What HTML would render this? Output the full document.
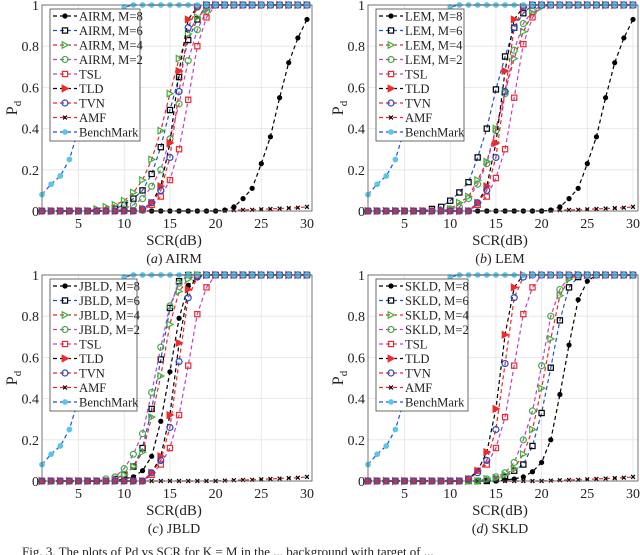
<!DOCTYPE html>
<html><head><meta charset="utf-8"><style>
html,body{margin:0;padding:0;background:#fff;width:640px;height:555px;overflow:hidden}
svg{display:block}
text{font-family:"Liberation Serif",serif;fill:#222}
</style></head><body>
<svg id="fig" width="640" height="555" viewBox="0 0 640 555" xmlns="http://www.w3.org/2000/svg"></svg>
<script>
const xCats=[1,2,3,4,5,6,7,8,9,10,11,12,13,14,15,16,17,18,19,20,21,22,23,24,25,26,27,28,29,30];
const xTicks=[5,10,15,20,25,30];
const yTicks=[0,0.2,0.4,0.6,0.8,1];
const yTickLabels=["0","0.2","0.4","0.6","0.8","1"];
const benchVals=[.08,.13,.17,.25,.40,.55,.70,.83,.93,.99,1,1,1,1,1,1,1,1,1,1,1,1,1,1,1,1,1,1,1,1];
const amfVals=[0,0,0,0,0,0,0,0,0,0,0,0,0,0,0,0,0,0,0,0,.002,.004,.005,.006,.008,.01,.012,.014,.016,.02];
// panel a (AIRM)
const aM8=[0,0,0,0,0,0,0,0,0,0,0,0,0,0,0,0,0,0,0,0,.005,.02,.06,.11,.23,.36,.55,.72,.84,.93];
const aM6=[0,0,0,0,0,0,0,0,.01,.03,.06,.10,.18,.31,.49,.65,.83,.93,1,1,1,1,1,1,1,1,1,1,1,1];
const aM4=[0,0,0,0,0,0,.01,.02,.03,.05,.09,.15,.25,.39,.57,.74,.86,.94,.98,1,1,1,1,1,1,1,1,1,1,1];
const aM2=[0,0,0,0,0,0,0,0,0,.01,.03,.06,.12,.20,.35,.52,.73,.88,.97,1,1,1,1,1,1,1,1,1,1,1];
const aTSL=[0,0,0,0,0,0,0,0,0,0,0,.005,.03,.07,.15,.30,.54,.80,.94,1,1,1,1,1,1,1,1,1,1,1];
const aTLD=[0,0,0,0,0,0,0,0,0,0,0,.01,.04,.12,.33,.68,.93,.99,1,1,1,1,1,1,1,1,1,1,1,1];
const aTVN=[0,0,0,0,0,0,0,0,0,0,0,.01,.04,.10,.26,.58,.89,.99,1,1,1,1,1,1,1,1,1,1,1,1];
// panel b (LEM)
const bM8=[0,0,0,0,0,0,0,0,0,0,0,0,0,0,0,0,0,0,0,0,.005,.02,.06,.11,.23,.36,.55,.72,.84,.93];
const bM6=[0,0,0,0,0,0,0,.01,.02,.05,.09,.14,.26,.40,.59,.75,.89,.96,1,1,1,1,1,1,1,1,1,1,1,1];
const bM4=[0,0,0,0,0,0,0,0,0,.01,.04,.07,.15,.24,.40,.58,.74,.87,.96,.99,1,1,1,1,1,1,1,1,1,1];
const bM2=[0,0,0,0,0,0,0,0,0,.01,.02,.06,.13,.23,.39,.57,.78,.91,.97,1,1,1,1,1,1,1,1,1,1,1];
const bTSL=[0,0,0,0,0,0,0,0,0,0,0,0,.03,.07,.16,.30,.55,.81,.94,1,1,1,1,1,1,1,1,1,1,1];
const bTLD=[0,0,0,0,0,0,0,0,0,0,0,0,.04,.12,.33,.68,.93,.99,1,1,1,1,1,1,1,1,1,1,1,1];
const bTVN=[0,0,0,0,0,0,0,0,0,0,0,0,.04,.10,.26,.58,.89,.99,1,1,1,1,1,1,1,1,1,1,1,1];
// panel c (JBLD)
const cM8=[0,0,0,0,0,0,0,0,0,.01,.02,.05,.12,.29,.53,.79,.95,.99,1,1,1,1,1,1,1,1,1,1,1,1];
const cM6=[0,0,0,0,0,0,0,0,.01,.03,.07,.16,.35,.59,.84,.97,1,1,1,1,1,1,1,1,1,1,1,1,1,1];
const cM4=[0,0,0,0,0,0,0,0,.01,.03,.07,.14,.31,.51,.76,.92,.98,1,1,1,1,1,1,1,1,1,1,1,1,1];
const cM2=[0,0,0,0,0,0,0,.01,.02,.06,.13,.23,.43,.65,.85,.96,1,1,1,1,1,1,1,1,1,1,1,1,1,1];
const cTSL=[0,0,0,0,0,0,0,0,0,0,0,0,.03,.08,.16,.32,.56,.81,.94,1,1,1,1,1,1,1,1,1,1,1];
const cTLD=[0,0,0,0,0,0,0,0,0,0,0,0,.04,.12,.32,.67,.93,.99,1,1,1,1,1,1,1,1,1,1,1,1];
const cTVN=[0,0,0,0,0,0,0,0,0,0,0,0,.04,.10,.26,.58,.89,.99,1,1,1,1,1,1,1,1,1,1,1,1];
// panel d (SKLD)
const dM8=[0,0,0,0,0,0,0,0,0,0,0,0,0,0,0,.005,.01,.02,.045,.09,.20,.42,.66,.88,.97,1,1,1,1,1];
const dM6=[0,0,0,0,0,0,0,0,0,0,0,0,0,0,.01,.02,.05,.08,.17,.33,.55,.78,.94,.99,1,1,1,1,1,1];
const dM4=[0,0,0,0,0,0,0,0,0,0,0,0,0,.01,.015,.03,.06,.13,.25,.45,.69,.90,.98,1,1,1,1,1,1,1];
const dM2=[0,0,0,0,0,0,0,0,0,0,0,0,0,.01,.02,.04,.09,.20,.34,.56,.80,.93,.99,1,1,1,1,1,1,1];
const dTSL=[0,0,0,0,0,0,0,0,0,0,0,.01,.05,.08,.16,.31,.56,.81,.94,1,1,1,1,1,1,1,1,1,1,1];
const dTLD=[0,0,0,0,0,0,0,0,0,0,0,.01,.05,.14,.35,.71,.94,1,1,1,1,1,1,1,1,1,1,1,1,1];
const dTVN=[0,0,0,0,0,0,0,0,0,0,0,.01,.04,.10,.25,.57,.89,.99,1,1,1,1,1,1,1,1,1,1,1,1];

const NS="http://www.w3.org/2000/svg";
const svg=document.getElementById('fig');
function mk(tag,attrs,parent){const e=document.createElementNS(NS,tag);for(const k in attrs)e.setAttribute(k,attrs[k]);(parent||svg).appendChild(e);return e;}

const styles=[
 {line:'#000',mk:'dot',mc:'#000'},
 {line:'#1f4fd0',mk:'square',mc:'#000'},
 {line:'#e8262a',mk:'tri',mc:'#3cb33c'},
 {line:'#c040c8',mk:'circle',mc:'#3cb33c'},
 {line:'#c040c8',mk:'square',mc:'#ee2a2a'},
 {line:'#000',mk:'trifill',mc:'#ee2a2a'},
 {line:'#e8262a',mk:'circle',mc:'#1f4fd0'},
 {line:'#e8262a',mk:'x',mc:'#000'},
 {line:'#1f4fd0',mk:'bench',mc:'#5cc6e6'}
];
function marker(g,kind,c,x,y){
  let e;
  if(kind==='dot')e=mk('circle',{cx:x,cy:y,r:2.6,fill:c},g);
  else if(kind==='bench')e=mk('circle',{cx:x,cy:y,r:2.9,fill:c},g);
  else if(kind==='square')e=mk('rect',{x:x-2.6,y:y-2.6,width:5.2,height:5.2,fill:'none',stroke:c,'stroke-width':1.2},g);
  else if(kind==='circle')e=mk('circle',{cx:x,cy:y,r:3,fill:'none',stroke:c,'stroke-width':1.2},g);
  else if(kind==='tri'||kind==='trifill')e=mk('polygon',{points:`${x-2.8},${y-3.2} ${x+3.2},${y} ${x-2.8},${y+3.2}`,fill:kind==='tri'?'none':c,stroke:c,'stroke-width':1.2},g);
  else e=mk('path',{d:`M${x-1.9},${y-1.9}L${x+1.9},${y+1.9}M${x-1.9},${y+1.9}L${x+1.9},${y-1.9}`,stroke:c,'stroke-width':1.2},g);
  return e;
}
const panels=[
 {ox:0,oy:0,name:'AIRM',tag:'a',sets:[aM8,aM6,aM4,aM2,aTSL,aTLD,aTVN,amfVals,benchVals],lw:90},
 {ox:326,oy:0,name:'LEM',tag:'b',sets:[bM8,bM6,bM4,bM2,bTSL,bTLD,bTVN,amfVals,benchVals],lw:88},
 {ox:0,oy:270,name:'JBLD',tag:'c',sets:[cM8,cM6,cM4,cM2,cTSL,cTLD,cTVN,amfVals,benchVals],lw:87},
 {ox:326,oy:270,name:'SKLD',tag:'d',sets:[dM8,dM6,dM4,dM2,dTSL,dTLD,dTVN,amfVals,benchVals],lw:92}
];
const names=['M=8','M=6','M=4','M=2','TSL','TLD','TVN','AMF','BenchMark'];
panels.forEach(p=>{
  const L=p.ox+42,R=p.ox+312,T=p.oy+5,B=p.oy+211;
  const xs=v=>p.ox+42+(v-1)*(265/29);
  const ys=v=>B-v*(B-T);
  const g=mk('g',{});
  
  
  xTicks.forEach(t=>{mk('line',{x1:xs(t),x2:xs(t),y1:T,y2:B,stroke:'#e4e4e4','stroke-width':0.8},g);
    const tl=mk('text',{x:xs(t),y:B+17,'font-size':14,'text-anchor':'middle'},g);tl.textContent=t;
    });
  yTicks.forEach((t,i)=>{mk('line',{x1:L,x2:R,y1:ys(t),y2:ys(t),stroke:'#e4e4e4','stroke-width':0.8},g);
    const tl=mk('text',{x:L-3,y:ys(t)+5,'font-size':14,'text-anchor':'end'},g);tl.textContent=yTickLabels[i];
    });
  const order=[7,0,1,2,3,4,5,6,8];
  order.forEach(si=>{
    const st=styles[si],vals=p.sets[si];
    const s=mk('g',{},g);
    
    
    const d=vals.map((v,i)=>(i?'L':'M')+xs(xCats[i]).toFixed(1)+','+ys(v).toFixed(1)).join('');
    mk('path',{d:d,fill:'none',stroke:st.line,'stroke-width':1.2,'stroke-dasharray':'4,3'},s);
    vals.forEach((v,i)=>{const m=marker(s,st.mk,st.mc,xs(xCats[i]),ys(v));
      });
  });
  mk('rect',{x:L,y:T,width:R-L,height:B-T,fill:'none',stroke:'#555','stroke-width':0.8},g);
  const lg=mk('g',{},g);
  
  
  const lx=p.ox+50,ly=p.oy+9;
  mk('rect',{x:lx,y:ly,width:p.lw,height:132,fill:'#fff',stroke:'#444','stroke-width':0.8},lg);
  names.forEach((n,i)=>{
    const y=ly+7+i*14.5,st=styles[i];
    const e=mk('g',{},lg);
    
    
    mk('line',{x1:lx+3,x2:lx+27,y1:y,y2:y,stroke:st.line,'stroke-width':1.2,'stroke-dasharray':'4,3'},e);
    marker(e,st.mk,st.mc,lx+15,y);
    const t=mk('text',{x:lx+29,y:y+4.5,'font-size':12.6},e);
    t.textContent=(i<4?p.name+', ':'')+n;
  });
  const xl=mk('text',{x:(L+R)/2-3,y:B+34,'font-size':15,'text-anchor':'middle'},g);xl.textContent='SCR(dB)';
  
  const yl=mk('text',{x:0,y:0,'font-size':16,transform:`translate(${p.ox+17},${(T+B)/2}) rotate(-90)`,'text-anchor':'middle'},g);
  yl.innerHTML='P<tspan font-size="11" dy="4">d</tspan>';
  
  const cp=mk('text',{x:(L+R)/2-3,y:B+52,'font-size':14,'text-anchor':'middle'},g);
  cp.innerHTML='(<tspan font-style="italic">'+p.tag+'</tspan>) '+p.name;
  
});
const fc=mk('text',{x:22,y:556,'font-size':13,fill:'#555'});
fc.textContent='Fig. 3. The plots of Pd vs SCR for K = M in the ... background with target of ...';


</script>
</body></html>
